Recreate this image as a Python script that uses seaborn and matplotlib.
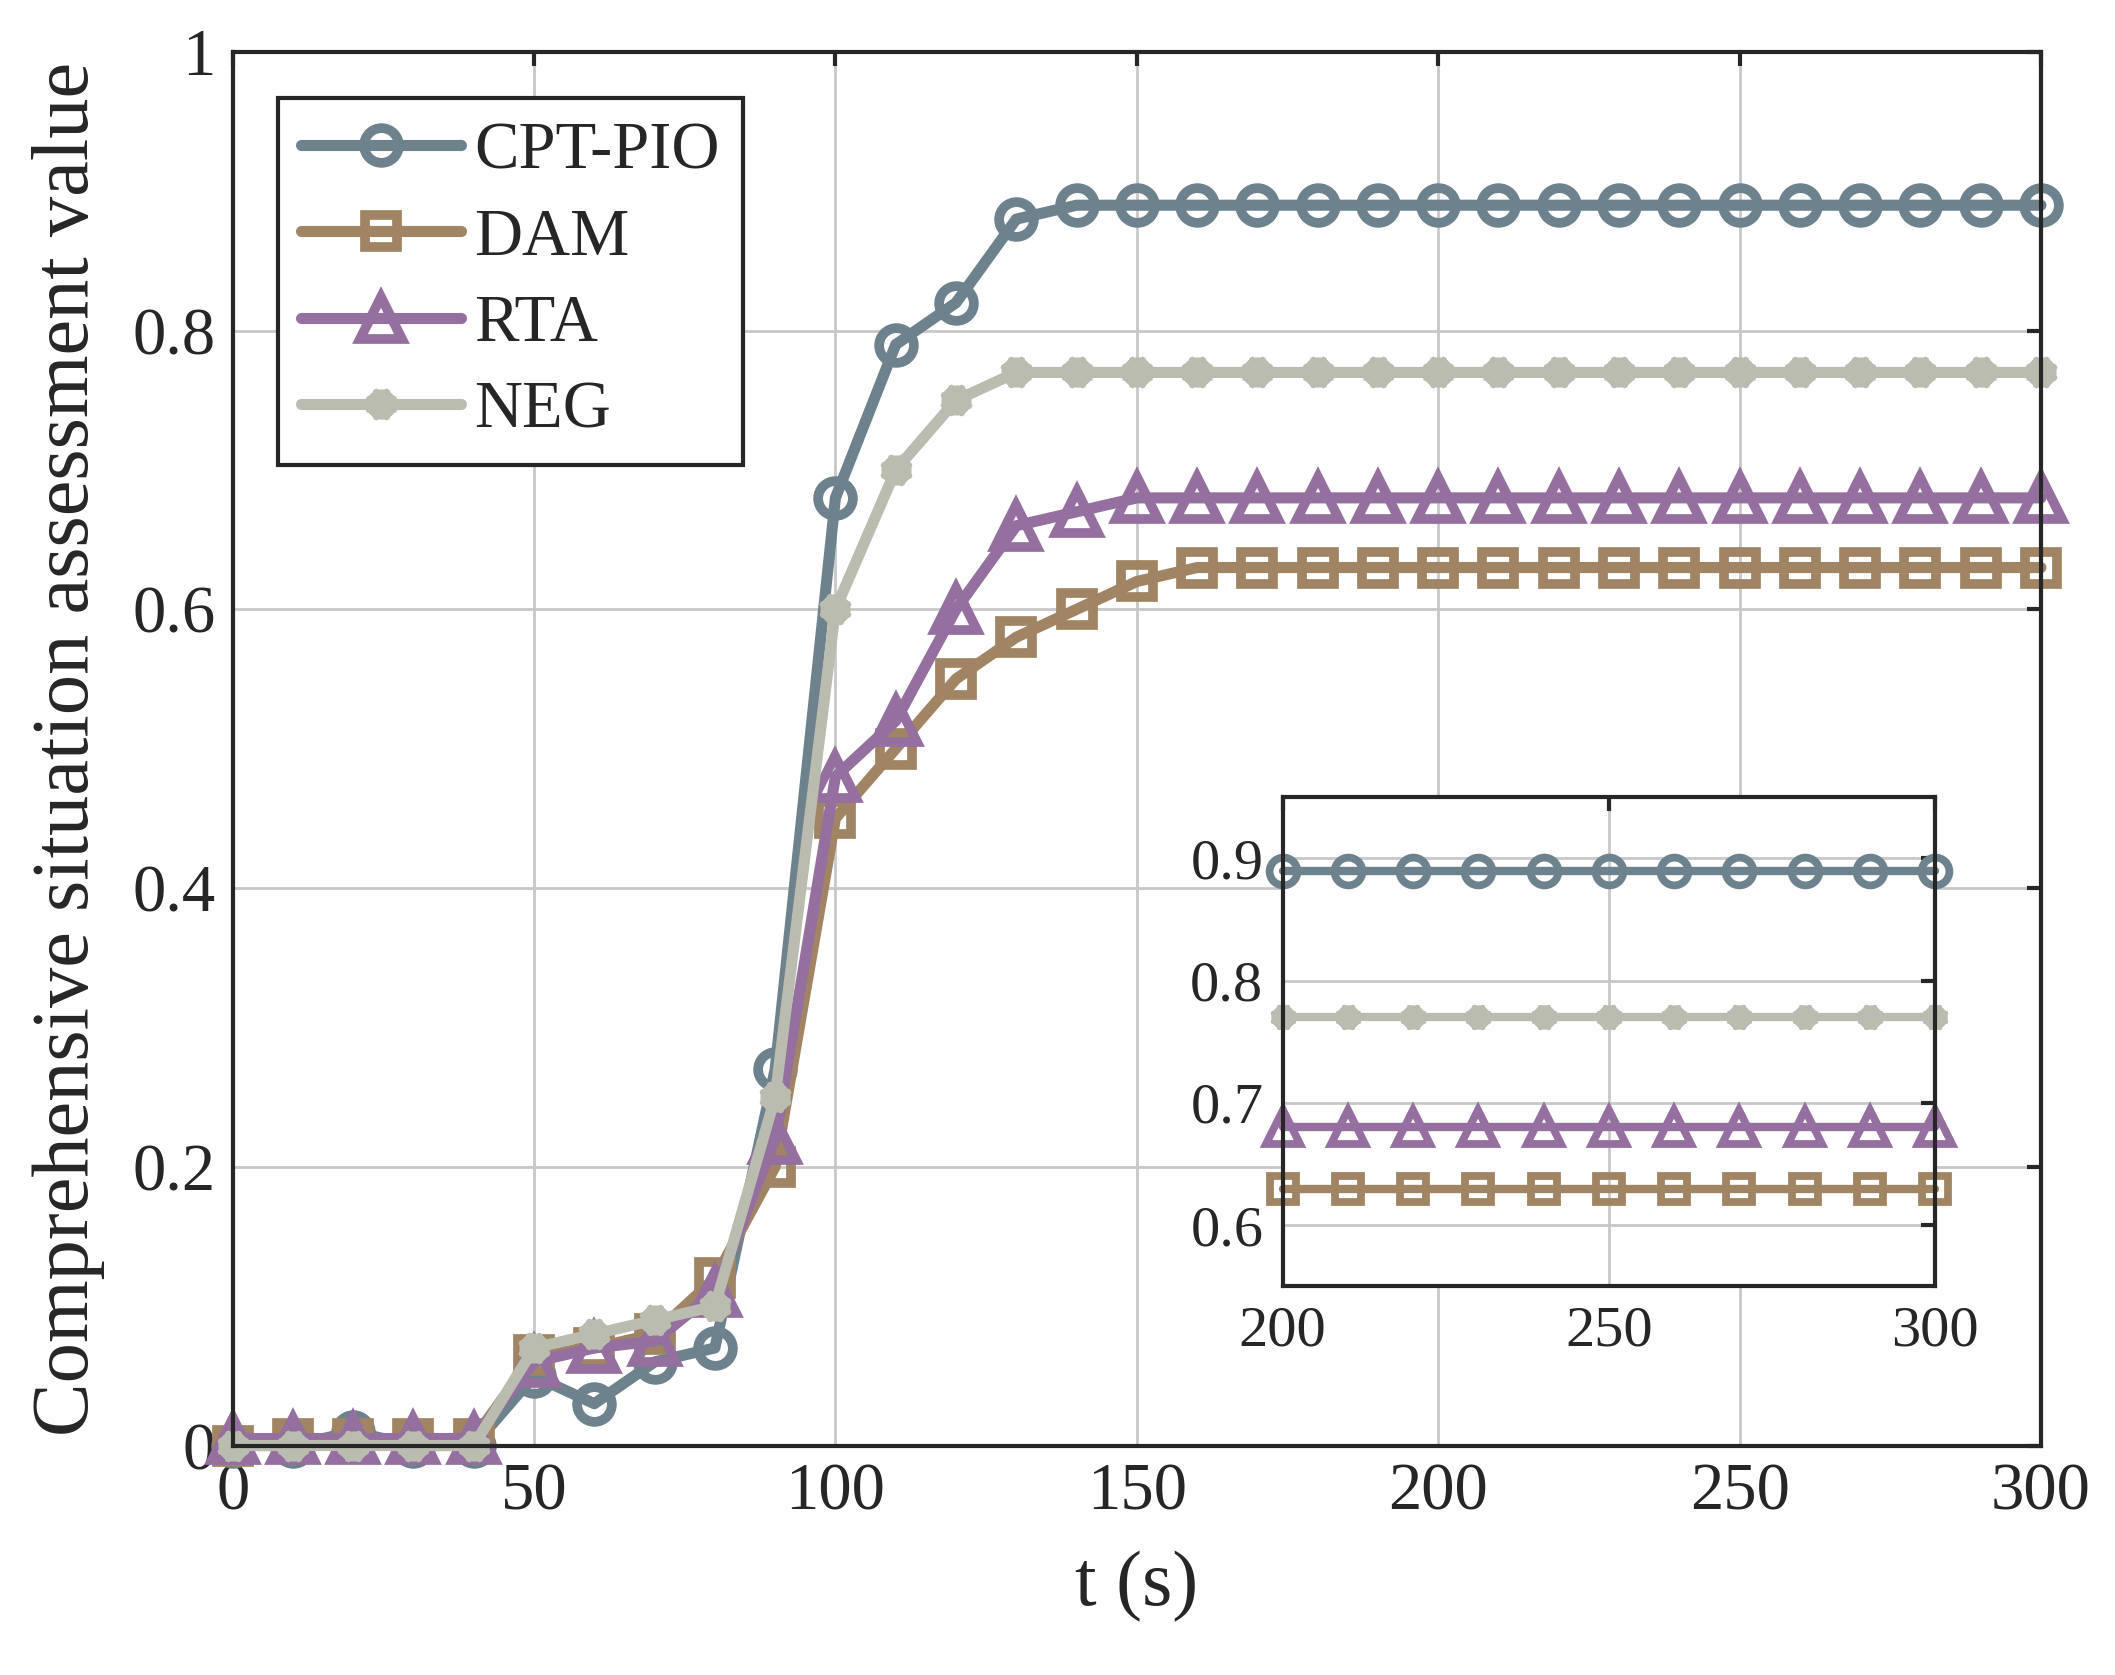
import numpy as np
import pandas as pd
import matplotlib
matplotlib.use("Agg")
import matplotlib.pyplot as plt
import seaborn as sns

# data (t every 10 s)
t = list(range(0, 301, 10))
cpt_pio = [0, 0, 0.01, 0, 0, 0.05, 0.03, 0.06, 0.07, 0.27, 0.68, 0.79, 0.82, 0.88] + [0.89] * 17
dam = [0, 0.005, 0.005, 0.005, 0.005, 0.065, 0.07, 0.08, 0.12, 0.2, 0.45, 0.5, 0.55, 0.58, 0.6, 0.62] + [0.63] * 15
rta = [0.005, 0.005, 0.005, 0.005, 0.005, 0.06, 0.07, 0.075, 0.11, 0.22, 0.48, 0.52, 0.6, 0.66, 0.67] + [0.68] * 16
neg = [0, 0, 0, 0, 0, 0.07, 0.08, 0.09, 0.1, 0.25, 0.6, 0.7, 0.75] + [0.77] * 18

names = ["CPT-PIO", "DAM", "RTA", "NEG"]
series = [cpt_pio, dam, rta, neg]
colors = ["#6D828D", "#A08464", "#956FA0", "#B9BCAF"]
markers = ["o", "s", "^", (8, 2, 0)]
size_scale = [1.0, 0.95, 1.2, 0.85]

sns.set_theme(style="whitegrid")
plt.rcParams['font.family'] = ['Liberation Serif', 'DejaVu Serif']
plt.rcParams.update({
    "axes.edgecolor": "#262626",
    "axes.linewidth": 1.5,
    "grid.color": "#c8c8c8",
    "grid.linewidth": 1.0,
    "xtick.direction": "in",
    "ytick.direction": "in",
    "xtick.top": True,
    "ytick.right": True,
    "xtick.color": "#262626",
    "ytick.color": "#262626",
    "xtick.major.size": 5,
    "ytick.major.size": 5,
    "xtick.major.width": 1.5,
    "ytick.major.width": 1.5,
})

df = pd.DataFrame({"t": t})
for n, s in zip(names, series):
    df[n] = s

fig = plt.figure(figsize=(10.575, 8.375), dpi=200)
ax = fig.add_axes([0.110, 0.137, 0.855, 0.832])


def draw(ax, data, ms, lw, mew):
    for n, c, m, k in zip(names, colors, markers, size_scale):
        is_star = not isinstance(m, str)
        sns.lineplot(data=data, x="t", y=n, ax=ax, color=c, marker=m, label=n,
                     linewidth=lw, markersize=ms * k,
                     markeredgecolor=c, markeredgewidth=mew * (1.6 if is_star else 1),
                     markerfacecolor=c if is_star else "none", clip_on=False)


draw(ax, df, 12.5, 4.0, 3.5)
ax.set_xlim(0, 300)
ax.set_ylim(0, 1)
ax.set_xticks(range(0, 301, 50))
ax.set_yticks([0, 0.2, 0.4, 0.6, 0.8, 1])
ax.set_yticklabels(["0", "0.2", "0.4", "0.6", "0.8", "1"])
ax.tick_params(labelsize=24, pad=6, colors="#262626")
ax.set_xlabel("t (s)", fontsize=28, color="#262626", labelpad=10)
ax.set_ylabel("Comprehensive situation assessment value", fontsize=29, color="#262626", labelpad=10)
ax.grid(True)

leg = ax.legend(loc="upper left", bbox_to_anchor=(0.025, 0.967), borderaxespad=0,
                fontsize=24, frameon=True, fancybox=False, handlelength=2.4,
                labelspacing=0.38, borderpad=0.35, handletextpad=0.2)
leg.get_frame().set_edgecolor("#262626")
leg.get_frame().set_linewidth(1.5)
leg.get_frame().set_alpha(1)

# inset zoom 200-300
ins = fig.add_axes([0.6065, 0.232, 0.3085, 0.292])
draw(ins, df[df["t"] >= 200], 10, 3.0, 2.8)
ins.set_xlim(200, 300)
ins.set_ylim(0.55, 0.95)
ins.set_xticks([200, 250, 300])
ins.set_yticks([0.6, 0.7, 0.8, 0.9])
ins.tick_params(labelsize=21, pad=7, colors="#262626")
ins.set_xlabel("")
ins.set_ylabel("")
ins.grid(True)
ins.get_legend().remove()
ins.set_facecolor("white")

fig.savefig("out.png", dpi=200)
